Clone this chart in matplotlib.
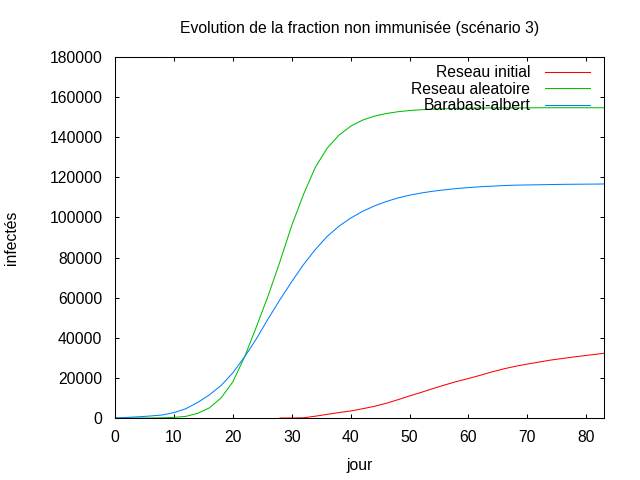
import numpy as np
import matplotlib.pyplot as plt

# données (jour -> nombre d'infectés)
jours = [0, 2, 4, 6, 8, 10, 12, 14, 16, 18, 20, 22, 24, 26, 28, 30, 32, 34, 36, 38, 40,
         42, 44, 46, 48, 50, 52, 54, 56, 58, 60, 62, 64, 66, 68, 70, 72, 74, 76, 78, 80, 82, 83]

aleatoire = [0, 0, 0, 0, 100, 300, 800, 2300, 5000, 10000, 18000, 30500, 45500, 61000,
             78000, 96000, 111500, 125000, 134500, 141000, 145500, 148500, 150500, 151800,
             152700, 153300, 153700, 154000, 154200, 154400, 154500, 154550, 154600, 154600,
             154650, 154650, 154700, 154700, 154700, 154700, 154700, 154700, 154700]

barabasi = [0, 300, 600, 1000, 1500, 2700, 4600, 7700, 11500, 16200, 22500, 30500, 39500,
            49500, 59000, 68000, 76500, 84000, 90500, 95600, 99700, 103000, 105700, 107900,
            109700, 111100, 112200, 113100, 113800, 114400, 114900, 115300, 115600, 115900,
            116100, 116200, 116300, 116400, 116500, 116550, 116600, 116650, 116700]

jours_initial = [28, 30, 32, 34, 36, 38, 40, 42, 44, 46, 48, 50, 52, 54, 56, 58, 60, 62,
                 64, 66, 68, 70, 72, 74, 76, 78, 80, 82, 83]
initial = [0, 0, 100, 900, 1800, 2700, 3500, 4600, 5800, 7300, 9100, 11000, 12800, 14700,
           16500, 18200, 19700, 21300, 23000, 24500, 25800, 26900, 27900, 28900, 29700,
           30500, 31200, 31900, 32300]

plt.rcParams['font.family'] = ['Liberation Sans', 'DejaVu Sans']
plt.rcParams['font.size'] = 11.3

fig = plt.figure(figsize=(6.4, 4.8), dpi=100)
ax = fig.add_axes([115 / 640, 62 / 480, 489 / 640, 361 / 480])

ax.plot(jours_initial, initial, color='#ff0000', lw=0.75, label='Reseau initial')
ax.plot(jours, aleatoire, color='#00c000', lw=0.75, label='Reseau aleatoire')
ax.plot(jours, barabasi, color='#0080ff', lw=0.75, label='Barabasi-albert')

ax.set_xlim(0, 83)
ax.set_ylim(0, 180000)
ax.set_xticks(range(0, 81, 10))
ax.set_yticks(range(0, 180001, 20000))
ax.tick_params(direction='in', length=3.2, width=0.75, top=True, right=True, pad=9)
for s in ax.spines.values():
    s.set_linewidth(0.75)

ax.set_title('Evolution de la fraction non immunisée (scénario 3)', fontsize=11.3, pad=17.5)
ax.set_xlabel('jour')
ax.set_ylabel('infectés')
ax.xaxis.set_label_coords(0.5, -0.112)
ax.yaxis.set_label_coords(-0.196, 0.5)

ax.legend(loc='upper right', bbox_to_anchor=(0.997, 1.012), frameon=False, markerfirst=False,
          handlelength=2.85, handletextpad=0.95, labelspacing=0.1, fontsize=11.3,
          borderpad=0.3)

fig.savefig('out.png', dpi=100)
